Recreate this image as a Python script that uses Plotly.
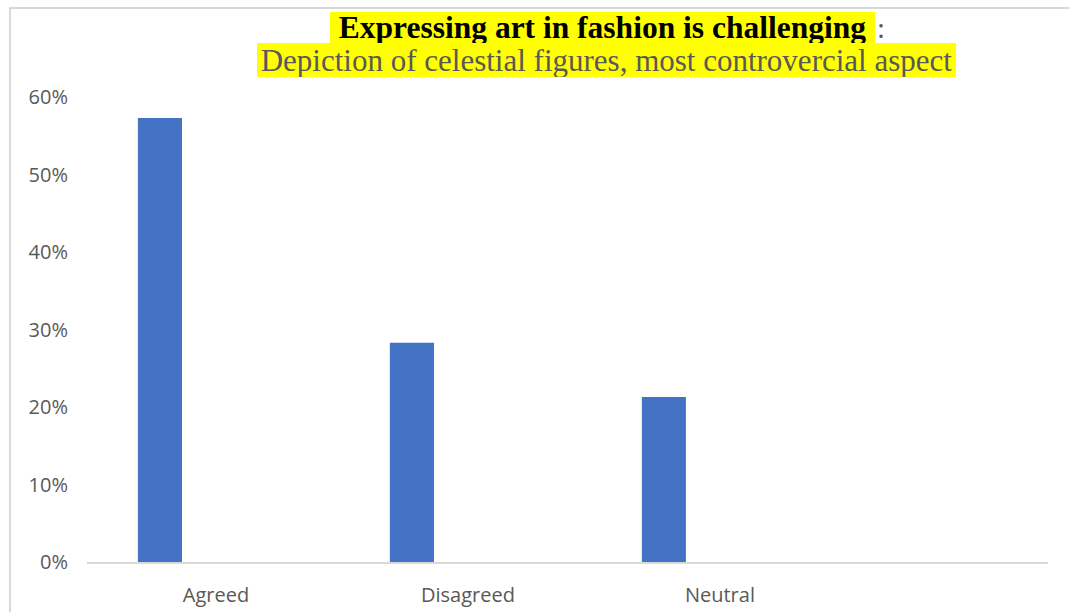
import plotly.graph_objects as go

categories = ["Agreed", "Disagreed", "Neutral"]
values = [57.3, 28.3, 21.3]  # percent
y_ticks = [0, 10, 20, 30, 40, 50, 60]
y_tick_labels = ["0%", "10%", "20%", "30%", "40%", "50%", "60%"]

title_line1 = "<b>Expressing art in fashion is challenging</b>"
title_line2 = "Depiction of celestial figures, most controvercial aspect"

W, H = 1069, 612
L, R, T, B = 87, 21, 97, 50
pw = W - L - R
ph = H - T - B


def px_x(p):
    return (p - L) / pw


def px_y(p):
    return (H - B - p) / ph


fig = go.Figure()
fig.add_trace(go.Bar(
    x=categories,
    y=values,
    marker=dict(color="#4472C4", line=dict(width=0)),
    offset=-0.31,
    width=0.175,
    hoverinfo="x+y",
))

grey = "#595959"
fig.update_layout(
    width=W, height=H,
    margin=dict(l=L, r=R, t=T, b=B, autoexpand=False),
    paper_bgcolor="white",
    plot_bgcolor="white",
    showlegend=False,
    font=dict(family="Open Sans", color=grey, size=20),
    xaxis=dict(
        type="category",
        range=[-0.512, 3.302],
        automargin=False,
        showline=True, linecolor="#d9d9d9", linewidth=1.5,
        showgrid=False, zeroline=False, ticks="",
        tickfont=dict(family="Open Sans", size=20, color=grey),
        ticklabelstandoff=14,
    ),
    yaxis=dict(
        range=[0, 60],
        automargin=False,
        tickvals=y_ticks, ticktext=y_tick_labels,
        showgrid=False, zeroline=False, showline=False, ticks="",
        tickfont=dict(family="Open Sans", size=20, color=grey),
        ticklabelstandoff=18,
    ),
)

fig.add_annotation(
    text=title_line1, xref="paper", yref="paper",
    x=px_x(602.5), y=px_y(27.5), xanchor="center", yanchor="middle",
    showarrow=False, bgcolor="#FFFF00", borderpad=0, borderwidth=0,
    width=545, height=31,
    font=dict(family="Liberation Serif", size=31.5, color="black"),
)
fig.add_annotation(
    text=":", xref="paper", yref="paper",
    x=px_x(876), y=px_y(27.5), xanchor="left", yanchor="middle",
    showarrow=False, borderpad=0,
    font=dict(family="Liberation Serif", size=29, color=grey),
)
fig.add_annotation(
    text=title_line2, xref="paper", yref="paper",
    x=px_x(606.5), y=px_y(60), xanchor="center", yanchor="middle",
    showarrow=False, bgcolor="#FFFF00", borderpad=0, borderwidth=0,
    width=699, height=34,
    font=dict(family="Liberation Serif", size=31, color=grey),
)

# chart-area border (top and left edges visible in the crop)
fig.add_shape(type="line", xref="paper", yref="paper",
              x0=px_x(9), x1=px_x(1069), y0=px_y(8), y1=px_y(8),
              line=dict(color="#d9d9d9", width=2))
fig.add_shape(type="line", xref="paper", yref="paper",
              x0=px_x(10), x1=px_x(10), y0=px_y(8), y1=px_y(612),
              line=dict(color="#d9d9d9", width=2))

fig.write_html("out.html", config={"displayModeBar": False},
               post_script="document.body.style.margin='0';")
